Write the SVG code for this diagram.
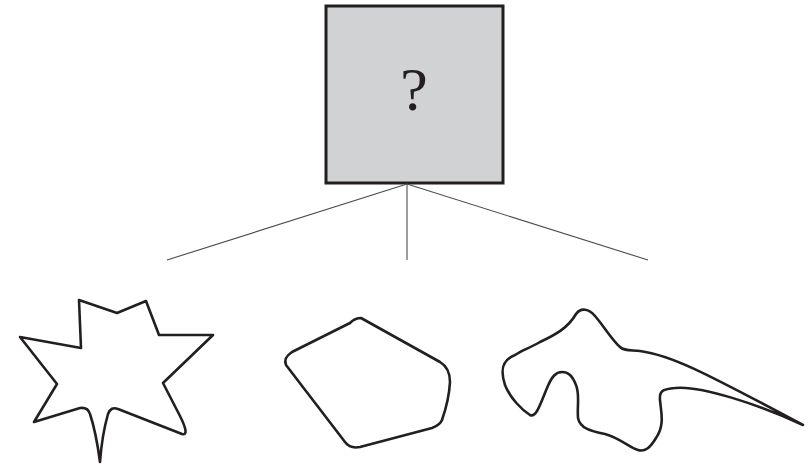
<svg xmlns="http://www.w3.org/2000/svg" width="810" height="465" viewBox="0 0 810 465">
<style>
.shape{fill:none;stroke:#231f20;stroke-width:2.6;stroke-linejoin:round}
.box{fill:#d1d2d4;stroke:#231f20;stroke-width:3}
.conn{stroke:#4d4d4f;stroke-width:1.1;fill:none}
.q{font-family:"Liberation Serif",serif;font-size:62px;fill:#231f20;text-anchor:middle}
</style>
<rect width="810" height="465" fill="#fff"/>
<g id="question">
<rect class="box" x="326" y="6" width="177" height="177"/>
<text class="q" x="414" y="110">?</text>
</g>
<g id="connectors">
<line class="conn" x1="407" y1="184" x2="167" y2="260"/>
<line class="conn" x1="407" y1="184" x2="407" y2="260"/>
<line class="conn" x1="407" y1="184" x2="648" y2="260"/>
</g>
<g id="star">
<path class="shape" d="M79,300 L117,313 L146,301 L159,335 L213,335 L163,383 L180,416 Q190,436 182,434 L118,409 Q111,406 108,414 Q102,435 100,462 Q96,432 90,414 Q88,407 80,408 L34,422 L57,384 L20,337 L81,348 Z"/>
</g>
<g id="polygon">
<path class="shape" d="M350,323 Q355,318 361,318 L440,362 Q450,368 450,382 Q449,400 442,420 Q440,425 432,428 L360,447 Q350,449 345,442 L286,365 Q283,358 292,352 Z"/>
</g>
<g id="blob">
<path class="shape" d="M576,314 C581,307 589,309 595,316 C603,325 612,340 620,347 C624,351 630,350 640,351 C670,355 700,370 803,425 C760,405 700,385 675,388 C664,389 659,390 660,400 C661,412 665,425 656,438 C650,448 645,452 638,450 C630,448 620,438 605,434 C590,431 580,428 578,418 C577,405 580,395 576,385 C572,375 568,372 562,372 C556,372 552,376 547,388 C540,405 536,418 530,415 C522,410 510,398 505,385 C500,370 502,360 515,355 C522,350 530,348 540,342 C555,335 568,328 576,314 Z"/>
</g>
</svg>
